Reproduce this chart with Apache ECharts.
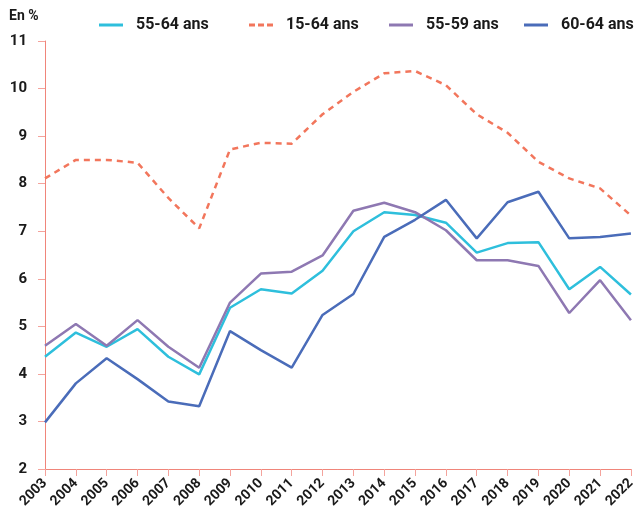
<!DOCTYPE html>
<html><head><meta charset="utf-8">
<script src="https://cdn.jsdelivr.net/npm/echarts@6/dist/echarts.min.js"></script>
<style>html,body{margin:0;padding:0;background:#fff}#c{width:638px;height:515px}</style>
</head><body><div id="c"></div>
<script>
const years = ['2003','2004','2005','2006','2007','2008','2009','2010','2011','2012','2013','2014','2015','2016','2017','2018','2019','2020','2021','2022'];
const s5564 = [4.36,4.87,4.57,4.94,4.36,3.99,5.39,5.78,5.69,6.17,7.00,7.40,7.34,7.18,6.55,6.75,6.77,5.78,6.25,5.67];
const s1564 = [8.11,8.50,8.50,8.44,7.70,7.06,8.72,8.86,8.84,9.46,9.93,10.32,10.37,10.07,9.46,9.07,8.46,8.11,7.90,7.33];
const s5559 = [4.59,5.05,4.59,5.13,4.57,4.13,5.50,6.11,6.15,6.49,7.43,7.60,7.40,7.02,6.39,6.39,6.27,5.28,5.97,5.13];
const s6064 = [2.98,3.80,4.33,3.89,3.42,3.32,4.90,4.50,4.13,5.24,5.68,6.88,7.24,7.66,6.85,7.61,7.83,6.85,6.88,6.95];
const yTicks = {min:2, max:11, interval:1};
const names = ['55-64 ans','15-64 ans','55-59 ans','60-64 ans'];

const font = 'Roboto, "Liberation Sans", sans-serif';
const chart = echarts.init(document.getElementById('c'));
function mk(name, data, color, dashed){
  return {name, type:'line', data, symbol:'none', showSymbol:false, smooth:false,
    lineStyle:{color, width:2.5, type: dashed ? [6,5] : 'solid'}, itemStyle:{color}, z: dashed?2:3};
}
const legendLeft = [94, 244, 384, 519];
const dashIcon = 'path://M0 0H6V3H0Z M9 0H15V3H9Z M18 0H24V3H18Z';
const legends = names.map((n,i)=>({
  top:12, left:legendLeft[i], itemWidth:24, itemHeight:3,
  icon: i===1 ? dashIcon : 'rect',
  textStyle:{fontFamily:font, fontWeight:'bold', fontSize:16, color:'#1a1a1a', padding:[0,0,0,8]},
  data:[n]
}));
chart.setOption({
  animation:false,
  grid:{left:45, right:6, top:41, bottom:46},
  graphic:[{type:'text', left:9, top:9, style:{text:'En %', font:'bold 14px '+font, fill:'#1a1a1a'}}],
  legend: legends,
  xAxis:{type:'category', data:years, boundaryGap:false,
    axisLine:{show:true, lineStyle:{color:'#f0857a', width:1}},
    axisTick:{show:true, alignWithLabel:true, length:7, lineStyle:{color:'#f4a39c'}},
    axisLabel:{rotate:45, interval:0, fontFamily:font, fontWeight:'bold', fontSize:14, color:'#1a1a1a', margin:12}},
  yAxis:{type:'value', min:yTicks.min, max:yTicks.max, interval:yTicks.interval,
    splitLine:{show:false},
    axisLine:{show:true, lineStyle:{color:'#f0857a', width:1}},
    axisTick:{show:true, length:7, lineStyle:{color:'#f4a39c'}},
    axisLabel:{fontFamily:font, fontWeight:'bold', fontSize:15, color:'#1a1a1a', margin:18}},
  series:[
    mk(names[0], s5564, '#2ebfdc', false),
    mk(names[1], s1564, '#f2765c', true),
    mk(names[2], s5559, '#8e78b2', false),
    mk(names[3], s6064, '#4a6cb9', false)
  ]
});
</script></body></html>
